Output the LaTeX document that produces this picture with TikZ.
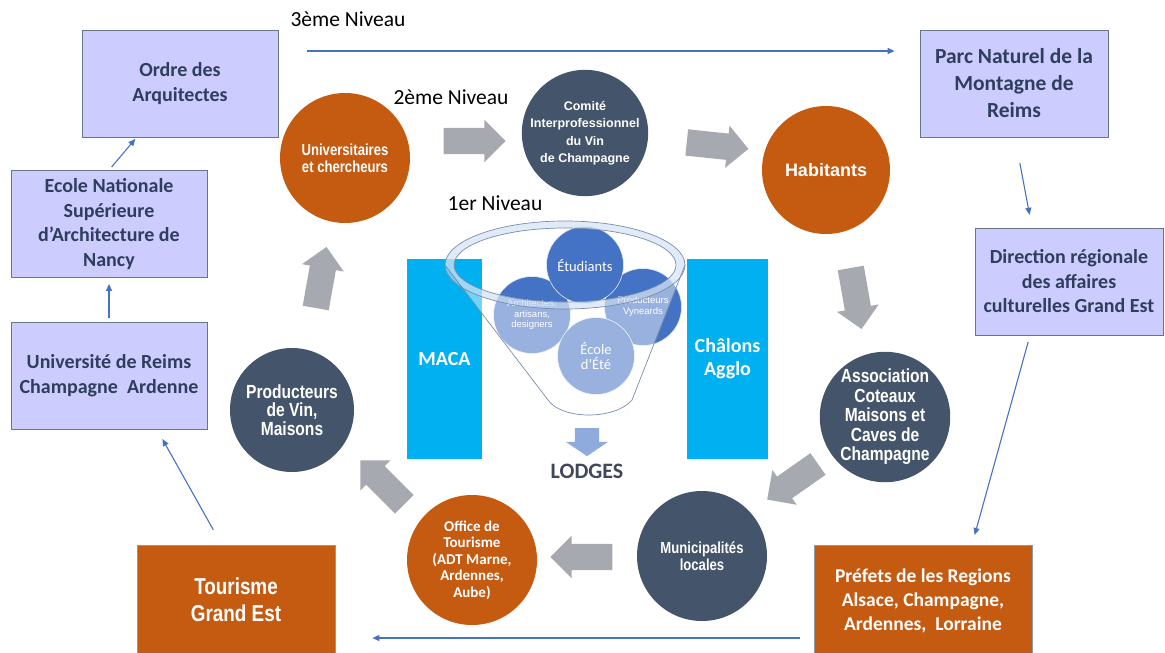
\documentclass[tikz,border=0pt]{standalone}
\usepackage{fontspec}
\setmainfont{Carlito}
\newfontfamily\condfont[FakeStretch=0.82]{Liberation Sans}
\newfontfamily\arialfont{Liberation Sans}
\usetikzlibrary{shapes.arrows,arrows.meta}
\definecolor{lavfill}{RGB}{204,204,255}
\definecolor{lavtext}{RGB}{47,62,92}
\definecolor{rust}{RGB}{197,90,17}
\definecolor{slate}{RGB}{68,84,106}
\definecolor{cyanbox}{RGB}{0,176,240}
\definecolor{flowgray}{RGB}{167,169,176}
\definecolor{linkblue}{RGB}{68,114,196}
\definecolor{innerblue}{RGB}{68,114,196}
\definecolor{rimblue}{RGB}{200,220,242}
\definecolor{funnelline}{RGB}{120,140,172}
\definecolor{downblue}{RGB}{143,170,220}
\definecolor{lodgegray}{RGB}{62,72,88}
\tikzset{
  lavbox/.style={draw=slate!80, line width=0.8pt, fill=lavfill, text=lavtext, align=center,
    inner sep=0pt, minimum width=196pt, minimum height=107pt,
    font=\bfseries\fontsize{20}{24.5}\selectfont},
  rustbox/.style={draw=slate!60, line width=0.8pt, fill=rust, text=white, align=center,
    inner sep=0pt, minimum width=198pt, minimum height=110pt},
  dot/.style={circle, fill=#1, text=white, align=center, inner sep=0pt},
  inner/.style={circle, fill=innerblue, draw=white!85!innerblue, line width=0.6pt,
    text=white, align=center, inner sep=0pt, minimum size=77pt},
  pillar/.style={fill=cyanbox, text=white, align=center, inner sep=0pt,
    font=\bfseries\fontsize{20}{23}\selectfont},
  flow/.style={single arrow, fill=flowgray, minimum height=62pt, inner xsep=0pt,
    inner ysep=13pt, single arrow head extend=8pt},
  level/.style={text=black, font=\fontsize{21.5}{24}\selectfont},
  link/.style={draw=linkblue, line width=1.1pt, -{Triangle[length=7pt,width=6pt]}}
}
\begin{document}
\begin{tikzpicture}[x=1pt,y=-1pt]
\useasboundingbox (0,0) rectangle (1165,653);

\node[lavbox] (ordre) at (180,83.5) {Ordre des\\Arquitectes};
\node[lavbox] (ecole) at (109,224) {Ecole Nationale\\Supérieure\\d'Architecture de\\Nancy};
\node[lavbox] (univ) at (109,375.5) {Université de Reims\\Champagne~ Ardenne};
\node[lavbox, minimum width=188pt, font=\bfseries\fontsize{21.5}{27}\selectfont] (parc) at (1014,83.5) {Parc Naturel de la\\Montagne de\\Reims};
\node[lavbox, minimum width=188pt] (direction) at (1069,281.5) {Direction régionale\\des affaires\\culturelles Grand Est};
\node[rustbox, font=\condfont\bfseries\fontsize{23}{27}\selectfont] (tourisme) at (236,600) {Tourisme\\Grand Est};
\node[rustbox, minimum width=218pt, minimum height=111pt, font=\bfseries\fontsize{19.5}{24}\selectfont] (prefets) at (923,600.5) {Préfets de les Regions\\Alsace, Champagne,\\Ardennes,~ Lorraine};

\node[dot=rust, minimum size=130pt, font=\condfont\bfseries\fontsize{16}{17}\selectfont] (univc) at (345,158) {Universitaires\\et chercheurs};
\node[dot=slate, minimum size=116pt, font=\arialfont\bfseries\fontsize{12.5}{17.5}\selectfont] (comite) at (585,133) {Comité\\Interprofessionnel\\du Vin\\de Champagne};
\node[dot=rust, minimum size=128pt, font=\arialfont\bfseries\fontsize{18}{20}\selectfont] (habit) at (826,170) {Habitants};
\node[dot=slate, minimum size=130pt, font=\condfont\bfseries\fontsize{19}{19.5}\selectfont] (assoc) at (885,417) {Association\\Coteaux\\Maisons et\\Caves de\\Champagne};
\node[dot=slate, minimum size=130pt, font=\condfont\bfseries\fontsize{16}{17.5}\selectfont] (munic) at (702,556) {Municipalités\\locales};
\node[dot=rust, minimum size=130pt, font=\bfseries\fontsize{15}{16.5}\selectfont] (office) at (472,560) {Office de\\Tourisme\\(ADT Marne,\\Ardennes,\\Aube)};
\node[dot=slate, minimum size=124pt, font=\condfont\bfseries\fontsize{19}{18.5}\selectfont] (prodc) at (292,410) {Producteurs\\de Vin,\\Maisons};

\node[flow] (f1) at (468,141) {};
\node[flow, rotate=-6] (f2) at (711,145) {};
\node[flow, rotate=-80] (f3) at (855,292) {};
\node[flow, rotate=-145] (f4) at (798,478) {};
\node[flow, rotate=180] (f5) at (588,557) {};
\node[flow, rotate=135] (f6) at (387,487) {};
\node[flow, rotate=80] (f7) at (320,284) {};

\node[pillar, minimum width=75pt, minimum height=200pt] (maca) at (444.5,359) {MACA};
\node[pillar, minimum width=81pt, minimum height=200pt] (chalons) at (727.5,359) {Châlons\\Agglo};

\node[inner, font=\arialfont\fontsize{9.5}{10.5}\selectfont] (archi) at (532,315) {Architectes,\\artisans,\\designers};
\node[inner, font=\arialfont\fontsize{9.5}{11}\selectfont] (prodv) at (643,307) {Producteurs\\Vyneards};
\node[inner, font=\fontsize{14.5}{15}\selectfont] (etud) at (585,265) {Étudiants};
\node[inner, font=\fontsize{14.5}{15.5}\selectfont] (ecoleete) at (596,356) {École\\d’Été};

\fill[white, opacity=.45, even odd rule] (445,265) -- (548,400) .. controls (562,420) and (615,420) .. (632,400) -- (685,265)
  arc[start angle=0, end angle=-180, x radius=120, y radius=44] -- cycle
  (565,265) ellipse[x radius=111, y radius=37];
\fill[rimblue, opacity=.55, even odd rule] (565,265) ellipse[x radius=120, y radius=44]
  (565,265) ellipse[x radius=111, y radius=37];
\draw[funnelline, line width=.7pt] (445,265) -- (548,400) .. controls (562,420) and (615,420) .. (632,400) -- (685,265);
\draw[funnelline, line width=.7pt] (565,265) ellipse[x radius=120, y radius=44];
\draw[funnelline, line width=.7pt] (565,265) ellipse[x radius=111, y radius=37];

\node[single arrow, fill=downblue, rotate=-90, minimum height=28pt, inner xsep=0pt, inner ysep=12pt,
  single arrow head extend=9pt, single arrow tip angle=112] (down) at (587,438) {};
\node[text=lodgegray, font=\bfseries\fontsize{22}{26}\selectfont] (lodges) at (587,471) {LODGES};

\node[level] (lvl3) at (348,19) {3ème Niveau};
\node[level] (lvl2) at (451,97) {2ème Niveau};
\node[level] (lvl1) at (495,203) {1er Niveau};

\coordinate (n3from) at (307,51);
\coordinate (bfrom) at (800,638);
\begin{scope}[link]
  \draw[shorten <=4pt, shorten >=2pt] (ecole.north) -- ([xshift=55pt]ordre.south west);
  \draw[shorten <=4pt, shorten >=6pt] (univ.north) -- (ecole.south);
  \draw[shorten <=17pt, shorten >=11pt] ([xshift=85pt]tourisme.north west) -- ([xshift=48pt]univ.south);
  \draw[shorten >=25pt] (n3from) -- (n3from -| parc.west);
  \draw[shorten <=26pt, shorten >=13pt] ([xshift=1pt]parc.south) -- ([xshift=-37pt]direction.north);
  \draw[shorten <=7pt, shorten >=10pt] ([xshift=-39pt]direction.south) -- ([xshift=49pt]prefets.north);
  \draw[shorten >=37pt] (bfrom) -- (bfrom -| tourisme.east);
\end{scope}
\end{tikzpicture}
\end{document}
